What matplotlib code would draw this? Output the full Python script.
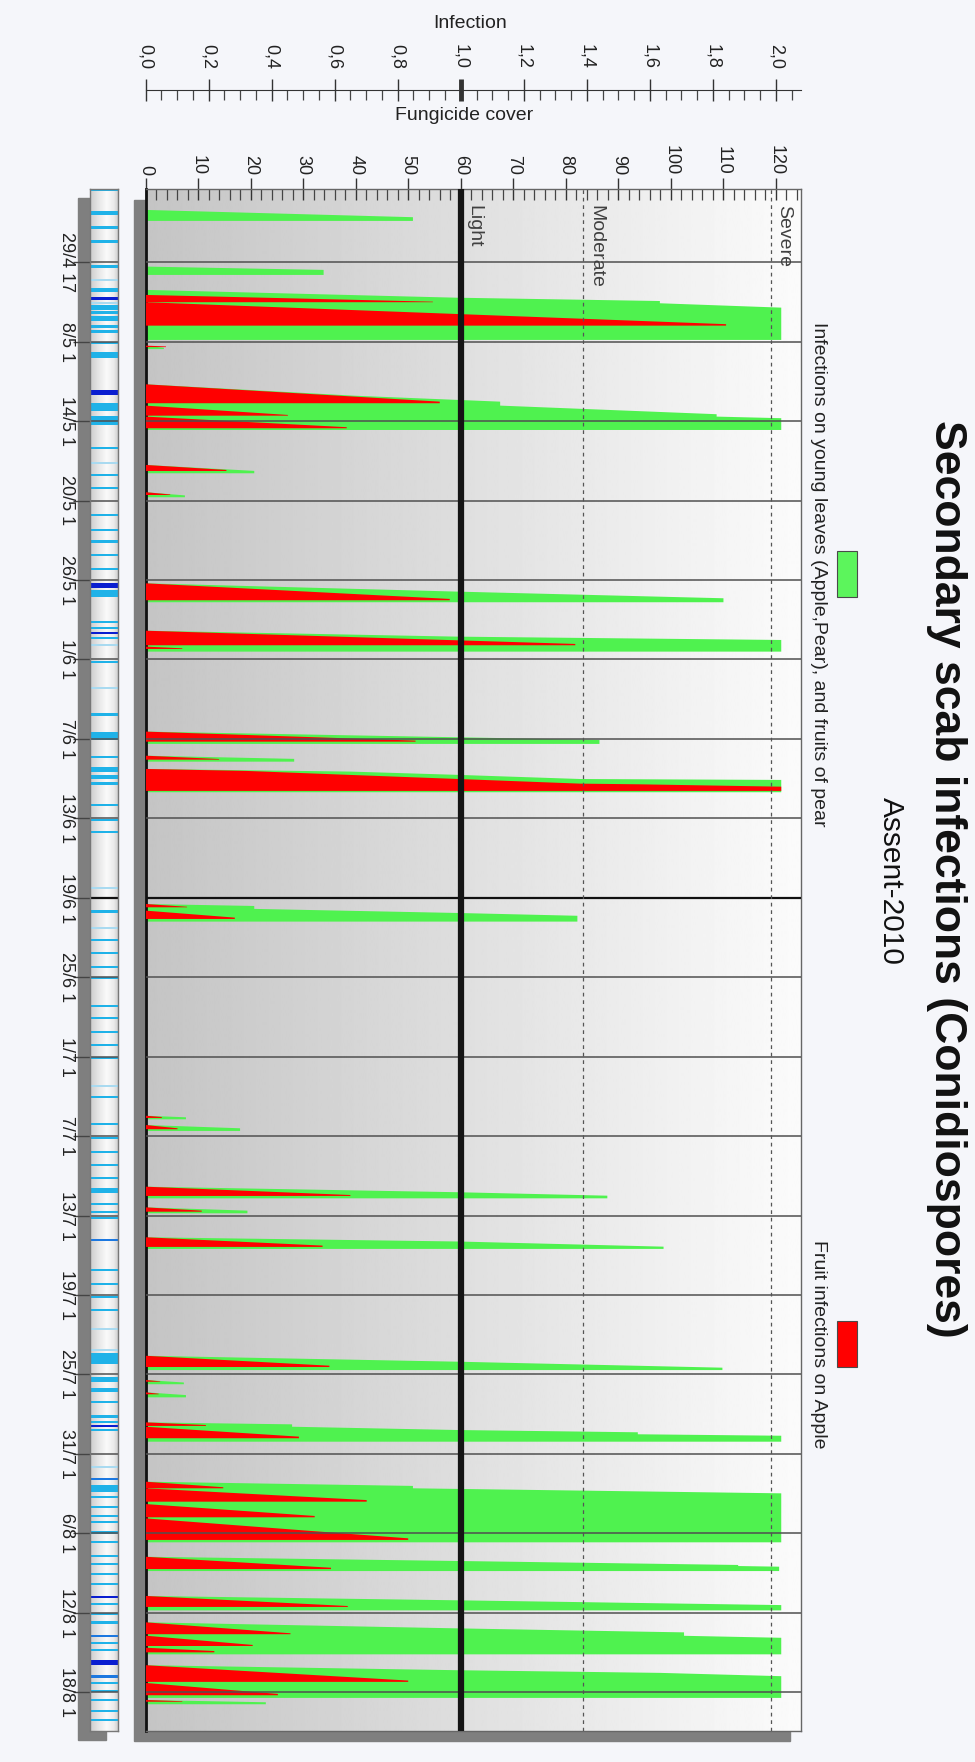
import matplotlib.pyplot as plt
import numpy as np
from matplotlib.patches import Rectangle

plt.rcParams['font.family'] = ['Liberation Sans', 'DejaVu Sans']

# time axis: days since 1 May 00:00
date_ticks = [1.04, 7.04, 13.04, 19.04, 25.04, 31.04, 37.04, 43.04, 49.04, 55.04,
              61.04, 67.04, 73.04, 79.04, 85.04, 91.04, 97.04, 103.04, 109.04]
date_labels = ['29/4 17', '8/5 1', '14/5 1', '20/5 1', '26/5 1', '1/6 1', '7/6 1',
               '13/6 1', '19/6 1', '25/6 1', '1/7 1', '7/7 1', '13/7 1', '19/7 1',
               '25/7 1', '31/7 1', '6/8 1', '12/8 1', '18/8 1']
day_min, day_max = -4.49, 111.97

fung_ticks = list(range(0, 121, 10))
inf_ticks = [0.0, 0.2, 0.4, 0.6, 0.8, 1.0, 1.2, 1.4, 1.6, 1.8, 2.0]
inf_labels = ['0,0', '0,2', '0,4', '0,6', '0,8', '1,0', '1,2', '1,4', '1,6', '1,8', '2,0']

levels = [60, 83.2, 119]
level_names = ['Light', 'Moderate', 'Severe']

# leaf infections (green): time points and cover values along the outer edge
green_t = [
    [-2.91, -2.36, -2.08],
    [1.37, 1.62, 2.00],
    [3.13, 3.72, 3.97, 4.14, 4.47, 6.91],
    [7.34, 7.50, 7.60],
    [10.26, 11.12, 11.57, 11.87, 12.52, 12.70, 12.82, 13.71],
    [16.35, 16.80, 16.98],
    [18.41, 18.65, 18.79],
    [25.29, 25.92, 26.42, 26.72],
    [28.87, 29.32, 29.57, 30.45],
    [36.49, 36.92, 37.12, 37.42],
    [38.31, 38.55, 38.76],
    [39.31, 39.51, 39.76, 40.07, 40.14, 41.07],
    [49.51, 49.66, 49.88, 50.19, 50.40, 50.84],
    [65.50, 65.62, 65.77],
    [66.20, 66.45, 66.65],
    [70.86, 71.28, 71.54, 71.74],
    [72.42, 72.67, 72.87],
    [74.68, 75.00, 75.39, 75.56],
    [83.63, 84.08, 84.53, 84.71],
    [85.46, 85.65, 85.78],
    [86.39, 86.60, 86.77],
    [88.66, 88.81, 88.99, 89.24, 89.41, 89.56, 89.67, 90.12],
    [93.14, 93.46, 93.64, 94.02, 97.72],
    [98.81, 99.13, 99.43, 99.51, 99.56, 99.89],
    [101.77, 102.10, 102.46, 102.86],
    [103.76, 104.22, 104.47, 104.52, 104.78, 104.93, 106.18],
    [107.00, 107.38, 107.58, 107.83, 109.47],
    [109.63, 109.80, 109.95],
]
green_v = [
    [0, 50.9, 50.9],
    [0, 33.9, 33.9],
    [0, 59.3, 97.9, 97.9, 121, 121],
    [0, 3.5, 3.5],
    [0, 39.7, 67.5, 67.5, 108.7, 108.7, 121, 121],
    [0, 20.7, 20.7],
    [0, 7.5, 7.5],
    [0, 59.6, 110, 110],
    [0, 59.6, 121, 121],
    [0, 59.6, 86.4, 86.4],
    [0, 28.3, 28.3],
    [0, 39.0, 59.6, 82.7, 121, 121],
    [0, 20.7, 20.7, 59.6, 82.2, 82.2],
    [0, 7.7, 7.7],
    [0, 18.0, 18.0],
    [0, 59.6, 87.9, 87.9],
    [0, 19.4, 19.4],
    [0, 59.6, 98.6, 98.6],
    [0, 59.6, 109.8, 109.8],
    [0, 7.3, 7.3],
    [0, 7.7, 7.7],
    [0, 27.9, 27.9, 59.6, 93.7, 93.7, 121, 121],
    [0, 50.9, 50.9, 121, 121],
    [0, 59.6, 112.8, 112.8, 120.6, 120.6],
    [0, 59.6, 121, 121],
    [0, 59.6, 94.9, 102.5, 102.5, 121, 121],
    [0, 59.6, 97.9, 121, 121],
    [0, 22.9, 22.9],
]

# fruit infections on apple (red)
red_t = [
    [3.51, 4.02, 4.06], [4.06, 5.72, 5.83], [7.34, 7.40, 7.45],
    [10.26, 11.57, 11.69], [11.87, 12.575, 12.63], [12.70, 13.50, 13.58],
    [16.35, 16.73, 16.81], [18.41, 18.58, 18.62], [25.29, 26.47, 26.57],
    [28.87, 29.87, 29.97], [30.07, 30.20, 30.25], [36.49, 37.17, 37.25],
    [38.31, 38.56, 38.61],
    [39.31, 39.46, 39.76, 40.07, 40.42, 40.47, 40.65, 40.97],
    [49.51, 49.72, 49.76], [50.01, 50.54, 50.64], [65.50, 65.60, 65.67],
    [66.20, 66.45, 66.52], [70.86, 71.49, 71.56], [72.42, 72.67, 72.75],
    [74.68, 75.31, 75.41], [83.63, 84.38, 84.48], [85.46, 85.56, 85.59],
    [86.39, 86.50, 86.54], [88.66, 88.86, 88.93], [88.99, 89.74, 89.86],
    [93.14, 93.56, 93.64], [93.64, 94.53, 94.65], [94.83, 95.73, 95.83],
    [95.91, 97.42, 97.54], [98.81, 99.64, 99.74], [101.77, 102.53, 102.60],
    [103.76, 104.59, 104.66], [104.77, 105.47, 105.55], [105.68, 105.93, 106.03],
    [107.00, 108.16, 108.26], [108.34, 109.17, 109.27], [109.63, 109.72, 109.76],
]
red_v = [
    [0, 54.7, 54.7], [0, 110.5, 110.5], [0, 3.9, 3.9],
    [0, 56.0, 56.0], [0, 27.1, 27.1], [0, 38.3, 38.3],
    [0, 15.4, 15.4], [0, 4.7, 4.7], [0, 57.9, 57.9],
    [0, 81.8, 81.8], [0, 7.0, 7.0], [0, 51.4, 51.4],
    [0, 14.0, 14.0],
    [0, 19.2, 38.8, 59.6, 82.7, 93.9, 121, 121],
    [0, 7.9, 7.9], [0, 17.0, 17.0], [0, 3.1, 3.1],
    [0, 6.1, 6.1], [0, 39.0, 39.0], [0, 10.7, 10.7],
    [0, 33.7, 33.7], [0, 35.0, 35.0], [0, 2.8, 2.8],
    [0, 2.5, 2.5], [0, 11.5, 11.5], [0, 29.2, 29.2],
    [0, 14.8, 14.8], [0, 42.1, 42.1], [0, 32.2, 32.2],
    [0, 50.0, 50.0], [0, 35.3, 35.3], [0, 38.5, 38.5],
    [0, 27.6, 27.6], [0, 20.4, 20.4], [0, 13.1, 13.1],
    [0, 50.0, 50.0], [0, 25.2, 25.2], [0, 7.0, 7.0],
]

# leaf wetness strip: centre day, duration (hours), type (0 pale, 1 light, 2 dark, 3 medium)
wet_day = [-4.42, -2.66, -1.60, -0.51, 1.37, 2.38, 3.13, 3.76, 4.10, 4.45, 4.85, 5.30,
           5.90, 6.27, 7.16, 8.04, 10.88, 12.00, 13.00, 15.09, 16.22, 17.11, 18.11,
           20.13, 21.26, 22.14, 23.15, 24.23, 25.45, 26.05, 28.19, 28.67, 29.05, 29.42,
           29.95, 31.21, 33.22, 35.20, 36.80, 38.38, 39.35, 39.90, 40.40, 42.03, 43.16,
           44.05, 48.28, 50.09, 51.30, 52.24, 53.23, 54.24, 55.12, 57.19, 58.14, 59.20,
           60.16, 61.12, 63.23, 64.11, 66.15, 67.20, 68.22, 69.22, 70.18, 71.15, 72.19,
           72.75, 73.25, 74.88, 77.15, 78.23, 79.17, 80.17, 81.61, 83.19, 83.87, 85.40,
           86.21, 87.10, 88.20, 88.65, 88.95, 89.25, 92.03, 92.91, 93.65, 94.30, 95.06,
           95.74, 96.19, 96.98, 97.70, 98.76, 99.36, 100.12, 100.87, 101.85, 102.38,
           103.14, 103.78, 104.82, 105.35, 105.88, 106.82, 107.84, 108.37, 108.97,
           109.65, 110.48, 111.16]
wet_hours = [5, 7, 5, 5, 5, 4, 6, 6, 4, 8, 6, 10,
             4, 6, 4, 12, 9, 15, 15, 4, 4, 4, 4,
             4, 4, 4, 4, 4, 9, 12, 4, 4, 4, 4,
             4, 4, 4, 4, 15, 4, 8, 8, 6, 4, 4,
             4, 4, 5, 4, 4, 4, 4, 4, 4, 4, 4,
             4, 4, 4, 4, 4, 4, 4, 4, 4, 9, 4,
             4, 4, 4, 4, 4, 4, 4, 4, 4, 20, 9,
             7, 4, 6, 4, 4, 4, 4, 4, 12, 4, 4,
             4, 4, 6, 4, 4, 4, 4, 4, 4, 4,
             4, 6, 4, 4, 4, 9, 5, 4, 4,
             4, 4, 4]
wet_type = [1, 1, 1, 1, 1, 0, 1, 2, 0, 1, 1, 1,
            1, 1, 1, 1, 2, 1, 1, 1, 0, 1, 1,
            1, 1, 1, 1, 1, 2, 1, 1, 1, 2, 1,
            0, 1, 0, 1, 1, 1, 1, 1, 1, 1, 1,
            1, 0, 1, 0, 1, 1, 1, 1, 1, 1, 1,
            1, 1, 0, 1, 1, 1, 1, 1, 1, 1, 1,
            1, 1, 3, 1, 1, 1, 1, 0, 0, 1, 1,
            1, 1, 1, 1, 2, 1, 0, 3, 1, 1, 1,
            1, 1, 1, 1, 1, 1, 1, 1, 2, 1,
            1, 1, 3, 1, 1, 2, 3, 1, 1,
            1, 1, 1]
wet_colors = ['#a9daf0', '#1fb2e8', '#0a1ed0', '#1c78e0']

W, H = 975, 1762


def fx(px):
    return px / W


def fy(py):
    return 1 - py / H


fig = plt.figure(figsize=(9.75, 17.62), dpi=100, facecolor='#f5f6fa')

L, R, T, B = 145.5, 801, 189, 1731
xmax = 124.76

# drop shadows
fig.patches.append(Rectangle((fx(134), fy(1741)), fx(790) - fx(134), fy(200) - fy(1741),
                             transform=fig.transFigure, color='#7f7f7f', zorder=-1))
fig.patches.append(Rectangle((fx(78), fy(1740)), fx(106) - fx(78), fy(198) - fy(1740),
                             transform=fig.transFigure, color='#7f7f7f', zorder=-1))

ax = fig.add_axes([fx(L), fy(B), fx(R) - fx(L), fy(T) - fy(B)])
xg = np.linspace(0, xmax, 600)
shade = np.where(xg < 60, 0.77 + 0.10 * xg / 60, 0.875 + 0.11 * (xg - 60) / (xmax - 60))
ax.imshow(np.tile(shade, (2, 1)), cmap='gray', vmin=0, vmax=1, aspect='auto',
          extent=[0, xmax, day_max, day_min], zorder=0, interpolation='bilinear')

for t, v in zip(green_t, green_v):
    ax.fill(v + [0], t + [t[-1]], color='#4ff24f', lw=0, zorder=2)
for t, v in zip(red_t, red_v):
    ax.fill(v + [0], t + [t[-1]], color='#ff0000', lw=0, zorder=3)

for d, lab in zip(date_ticks, date_labels):
    if lab == '19/6 1':
        ax.axhline(d, color='#111111', lw=1.6, zorder=4)
    else:
        ax.axhline(d, color='#505050', lw=1.1, zorder=4)

ax.axvline(levels[0], color='#151515', lw=4.5, zorder=5)
for lv in levels[1:]:
    ax.axvline(lv, color='#555555', lw=0.9, ls=(0, (3, 3)), zorder=5)
for lv, name in zip(levels, level_names):
    ax.text(lv + 2.5, -3.3, name, rotation=270, ha='center', va='top',
            fontsize=14, color='#404040', zorder=6)

ax.set_xlim(0, xmax)
ax.set_ylim(day_max, day_min)
ax.xaxis.tick_top()
ax.set_xticks(fung_ticks)
ax.set_xticklabels([str(v) for v in fung_ticks], rotation=270)
ax.set_xticks(np.arange(0, 125, 2), minor=True)
ax.tick_params(axis='x', which='major', direction='inout', length=16.5, width=1,
               color='#333333', pad=2, labelsize=13, labelcolor='#222222')
ax.tick_params(axis='x', which='minor', direction='in', length=8, width=0.9, color='#444444')
ax.set_yticks([])
for s in ax.spines.values():
    s.set_color('#666666')
    s.set_linewidth(1)
ax.spines['left'].set_color('#111111')
ax.spines['left'].set_linewidth(2)

# infection scale above
axi = fig.add_axes([fx(L), fy(90) - 0.002, fx(R) - fx(L), 0.002])
axi.patch.set_visible(False)
axi.set_xlim(0, xmax / 60)
for k in ['left', 'right', 'bottom']:
    axi.spines[k].set_visible(False)
axi.spines['top'].set_color('#333333')
axi.xaxis.tick_top()
axi.set_xticks(inf_ticks)
axi.set_xticklabels(inf_labels, rotation=270)
axi.set_xticks(np.arange(0, 2.08, 0.05), minor=True)
axi.tick_params(axis='x', which='major', direction='inout', length=16, width=1,
                color='#333333', pad=7, labelsize=13, labelcolor='#222222')
axi.tick_params(axis='x', which='minor', direction='in', length=7.2, width=0.9, color='#444444')
axi.set_yticks([])
axi.xaxis.get_major_ticks()[5].tick2line.set_markeredgewidth(3.5)

fig.text(fx(470), fy(23), 'Infection', ha='center', va='center', fontsize=14, color='#222222')
fig.text(fx(464), fy(115), 'Fungicide cover', ha='center', va='center', fontsize=14, color='#222222')

# wetness strip
axs = fig.add_axes([fx(90), fy(B), fx(118) - fx(90), fy(T) - fy(B)])
sx = np.linspace(0, 1, 100)
sshade = np.interp(sx, [0, 0.3, 0.6, 0.85, 1], [0.80, 0.90, 0.98, 0.92, 0.82])
axs.imshow(np.tile(sshade, (2, 1)), cmap='gray', vmin=0, vmax=1, aspect='auto',
           extent=[0, 1, day_max, day_min], zorder=0, interpolation='bilinear')
for d, h, k in zip(wet_day, wet_hours, wet_type):
    axs.barh(d, 1, height=h / 24, left=0, color=wet_colors[k], lw=0, zorder=1)
for d, lab in zip(date_ticks, date_labels):
    axs.axhline(d, color='#111111' if lab == '19/6 1' else '#505050',
                lw=1.6 if lab == '19/6 1' else 1.1, zorder=2)
axs.set_xlim(0, 1)
axs.set_ylim(day_max, day_min)
axs.set_xticks([])
axs.set_yticks(date_ticks)
axs.set_yticklabels(date_labels, rotation=270, va='center')
axs.tick_params(axis='y', direction='out', length=12, width=1, color='#444444',
                pad=-1, labelsize=13, labelcolor='#222222')
for s in axs.spines.values():
    s.set_color('#777777')
    s.set_linewidth(1)

# titles and legend
fig.text(fx(946), fy(879), 'Secondary scab infections (Conidiospores)', rotation=270,
         ha='center', va='center', fontsize=32, fontweight='bold', color='#111111')
fig.text(fx(891), fy(881), 'Assent-2010', rotation=270, ha='center', va='center',
         fontsize=21.5, color='#111111')
fig.patches.append(Rectangle((fx(837), fy(597)), fx(857) - fx(837), fy(551) - fy(597),
                             transform=fig.transFigure, facecolor='#5cf55c',
                             edgecolor='#4a4a4a', lw=0.8))
fig.patches.append(Rectangle((fx(837), fy(1367)), fx(857) - fx(837), fy(1321) - fy(1367),
                             transform=fig.transFigure, facecolor='#ff0000',
                             edgecolor='#4a4a4a', lw=0.8))
fig.text(fx(818), fy(574), 'Infections on young leaves (Apple,Pear), and fruits of pear',
         rotation=270, ha='center', va='center', fontsize=14, color='#222222')
fig.text(fx(818), fy(1344), 'Fruit infections on Apple', rotation=270, ha='center',
         va='center', fontsize=14, color='#222222')

fig.savefig('out.png', dpi=100, facecolor=fig.get_facecolor())
